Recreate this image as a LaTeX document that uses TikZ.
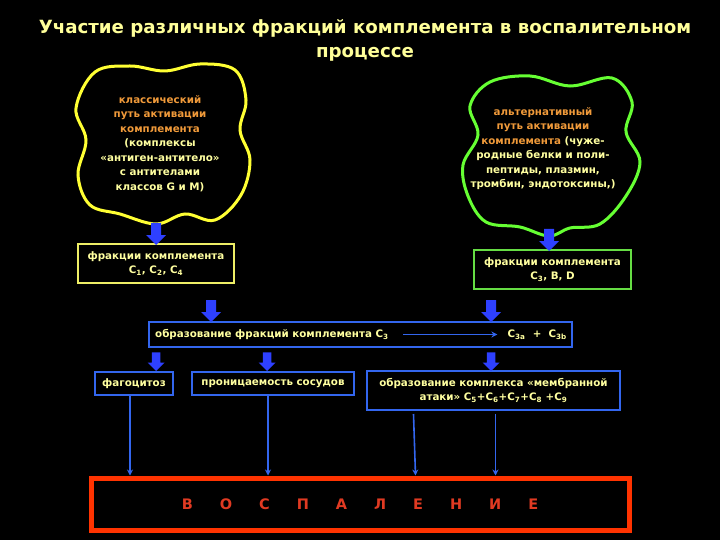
\documentclass[tikz,border=0pt]{standalone}
\usepackage{fontspec}
\setmainfont{DejaVu Sans}
\usetikzlibrary{arrows.meta,calc}
\definecolor{titleyel}{HTML}{FFFF99}
\definecolor{cream}{HTML}{FFFFA0}
\definecolor{orng}{HTML}{F09A3A}
\definecolor{blobyel}{HTML}{FFFF33}
\definecolor{blobgrn}{HTML}{66FF33}
\definecolor{boxyel}{HTML}{EEEE66}
\definecolor{boxgrn}{HTML}{66DD44}
\definecolor{boxblue}{HTML}{3366EE}
\definecolor{arrblue}{HTML}{2E40FF}
\definecolor{redbox}{HTML}{FF3300}
\definecolor{redtxt}{HTML}{E03A22}
\tikzset{
  bodyfont/.style={font=\fontsize{10.3}{14.5}\selectfont\bfseries},
  fracbox/.style={draw, line width=2pt, minimum width=#1, inner sep=0pt, align=center, text=cream, bodyfont},
  conn/.style={draw=boxblue, line width=1.6pt, -{Stealth[length=6pt,width=6pt]}},
  blk/.pic={\fill[arrblue] (-5,-22) -- (5,-22) -- (5,-10) -- (10,-10) -- (0,0) -- (-10,-10) -- (-5,-10) -- cycle;}
}
\begin{document}
\begin{tikzpicture}[x=1pt,y=-1pt]
\useasboundingbox (0,0) rectangle (720,540);
\fill[black] (0,0) rectangle (720,540);
% title
\node[text=titleyel, font=\fontsize{18.2}{24}\selectfont\bfseries, align=center] (title) at (365,40)
  {Участие различных фракций комплемента в воспалительном\\процессе};
% left blob
\draw[blobyel, line width=3pt] plot[smooth cycle, tension=0.6] coordinates
  {(95,72) (130,66) (165,71) (200,64) (235,70) (246,100) (240,130) (250,160) (241,195) (215,220) (185,214) (156,224) (120,214) (90,205) (78,175) (86,140) (76,108)};
\node[bodyfont, align=center] (classic) at (160,143.5)
  {\textcolor{orng}{классический}\\\textcolor{orng}{путь активации}\\\textcolor{orng}{комплемента}\\\textcolor{cream}{(комплексы}\\\textcolor{cream}{«антиген-антитело»}\\\textcolor{cream}{с антителами}\\\textcolor{cream}{классов G и M)}};
% right blob
\draw[blobgrn, line width=3pt] plot[smooth cycle, tension=0.6] coordinates
  {(490,82) (530,76) (570,86) (612,78) (632,102) (626,132) (640,162) (626,196) (600,224) (570,228) (549,236) (520,227) (486,222) (468,196) (463,165) (478,135) (470,106)};
\node[bodyfont, align=center] (alt) at (543,148.5)
  {\textcolor{orng}{альтернативный}\\\textcolor{orng}{путь активации}\\\textcolor{orng}{комплемента} \textcolor{cream}{(чуже-}\\\textcolor{cream}{родные белки и поли-}\\\textcolor{cream}{пептиды, плазмин,}\\\textcolor{cream}{тромбин, эндотоксины,)}};
% fraction boxes
\node[fracbox=156pt, draw=boxyel, minimum height=39pt] (c1) at (156,263.5)
  {фракции комплемента\\C\textsubscript{1}, C\textsubscript{2}, C\textsubscript{4}};
\node[fracbox=157pt, draw=boxgrn, minimum height=39pt] (c3b) at (552.5,269.5)
  {фракции комплемента\\C\textsubscript{3}, B, D};
% long box
\node[draw=boxblue, line width=2pt, minimum width=423pt, minimum height=25pt, inner sep=0pt] (long) at (360.5,334.5) {};
\node[bodyfont, text=cream, anchor=west, inner sep=0pt] (c3t) at (155,334.5) {образование фракций комплемента C\textsubscript{3}};
\node[bodyfont, text=cream, anchor=east, inner sep=0pt] (c3ab) at (567,334.5) {C\textsubscript{3a} \ + \ C\textsubscript{3b}};
\draw[conn, line width=1.2pt, shorten <=14pt, shorten >=10pt] (c3t.east) -- (c3ab.west);
% third row
\node[fracbox=78pt, draw=boxblue, minimum height=23pt] (fag) at (134,383.5) {фагоцитоз};
\node[fracbox=162pt, draw=boxblue, minimum height=23pt] (pron) at (273,383.5) {проницаемость сосудов};
\node[fracbox=253pt, draw=boxblue, minimum height=39pt] (mem) at (493.5,390.5)
  {образование комплекса «мембранной\\атаки» C\textsubscript{5}+C\textsubscript{6}+C\textsubscript{7}+C\textsubscript{8} +C\textsubscript{9}};
% block arrows
\pic at (156,245) {blk};
\pic at (549,251) {blk};
\pic at (211,322) {blk};
\pic at (491,322) {blk};
\pic[scale=0.85] at (156,371) {blk};
\pic[scale=0.85] at (267,371) {blk};
\pic[scale=0.85] at (491,371) {blk};
% red box
\node[draw=redbox, line width=5pt, minimum width=538pt, minimum height=52pt, inner sep=0pt,
  text=redtxt, font=\fontsize{14.5}{16}\selectfont\bfseries] (infl) at (360,504)
  {\spaceskip=27pt В О С П А Л Е Н И Е};
% connectors
\coordinate (fagx) at ($(fag.south)+(-4,0)$);
\coordinate (pronx) at ($(pron.south)+(-5,0)$);
\coordinate (memA) at ($(mem.south)+(-80,3)$);
\coordinate (memB) at ($(mem.south)+(2,3)$);
\draw[conn] (fagx) -- (fagx |- infl.north);
\draw[conn] (pronx) -- (pronx |- infl.north);
\draw[conn] (memA) -- ($(memA |- infl.north)+(2,0)$);
\draw[conn] (memB) -- (memB |- infl.north);
\end{tikzpicture}
\end{document}
